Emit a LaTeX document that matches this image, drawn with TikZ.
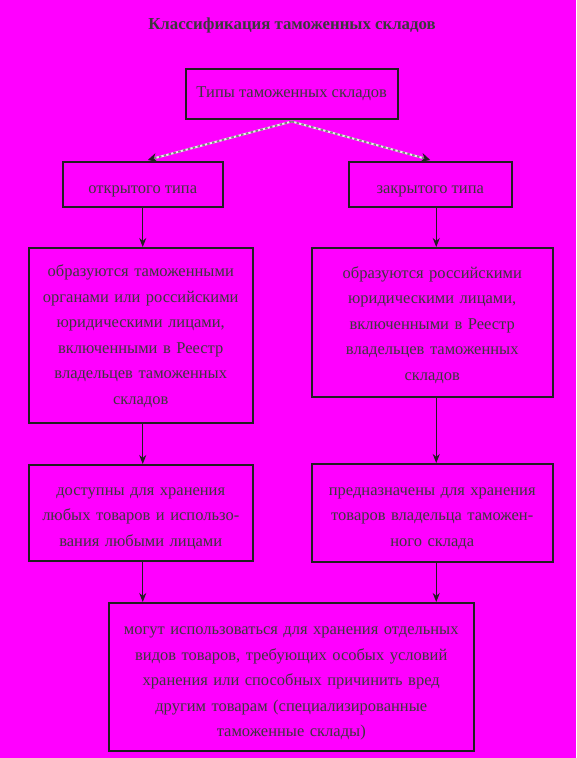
\documentclass[tikz,border=0pt]{standalone}
\usepackage{fontspec}
\setmainfont{Liberation Serif}
\usepackage{xcolor}
\usetikzlibrary{arrows.meta, positioning, calc}
\definecolor{pagemagenta}{RGB}{255, 0, 255}
\definecolor{boxline}{RGB}{34, 30, 34}
\definecolor{textgray}{RGB}{60, 56, 60}

\begin{document}
\begin{tikzpicture}[
    x=1pt, y=1pt,
    box/.style={rectangle, draw=boxline, line width=1.5pt, anchor=north west, inner sep=2pt, align=center, text=textgray, font=\fontsize{16.5}{25.5}\selectfont},
    lower/.style={text height=#1},
    arrow/.style={-{Stealth[length=9pt, width=7pt]}, boxline, line width=0.9pt},
    splitline/.style={white!85!gray, line width=2pt, shorten >=6pt},
    splitarrow/.style={-{Stealth[length=9pt, width=9pt, color=boxline]}, gray, line width=2pt, dash pattern=on 2.5pt off 2.5pt}
]
% Background and page size
\fill[pagemagenta] (0,0) rectangle (576,-758);
\useasboundingbox (0,0) rectangle (576,-758);

% Title
\node[font=\bfseries\fontsize{16.8}{20}\selectfont, text=textgray] (title) at (292,-25) {Классификация таможенных складов};

% Boxes
\node[box, minimum width=212pt, minimum height=50pt] (types) at (185,-68) {Типы таможенных складов};
\node[box, minimum width=160pt, minimum height=45pt, lower=23pt] (open) at (62,-161) {открытого типа};
\node[box, minimum width=163pt, minimum height=45pt, lower=23pt] (closed) at (348,-161) {закрытого типа};
\node[box, minimum width=224pt, minimum height=175pt, text width=215pt, lower=13.5pt] (openform) at (28,-247)
    {образуются таможенными\\органами или российскими\\юридическими лицами,\\включенными в Реестр\\владельцев таможенных\\складов};
\node[box, minimum width=241pt, minimum height=149pt, text width=230pt, lower=17.5pt] (closedform) at (311,-247)
    {образуются российскими\\юридическими лицами,\\включенными в Реестр\\владельцев таможенных\\складов};
\node[box, minimum width=224pt, minimum height=96pt, text width=215pt, lower=19.5pt] (openuse) at (28,-464)
    {доступны для хранения\\любых товаров и использо-\\вания любыми лицами};
\node[box, minimum width=241pt, minimum height=98pt, text width=230pt, lower=19.5pt] (closeduse) at (311,-463)
    {предназначены для хранения\\товаров владельца таможен-\\ного склада};
\node[box, minimum width=365pt, minimum height=148pt, text width=355pt, lower=21.5pt] (special) at (108,-602)
    {могут использоваться для хранения отдельных\\видов товаров, требующих особых условий\\хранения или способных причинить вред\\другим товарам (специализированные\\таможенные склады)};

% Split arrows
\draw[splitline] ([yshift=-2pt]types.south) -- ([xshift=5pt,yshift=1pt]open.north);
\draw[splitline] ([yshift=-2pt]types.south) -- ([yshift=1pt]closed.north);
\draw[splitarrow] ([yshift=-2pt]types.south) -- ([xshift=5pt,yshift=1pt]open.north);
\draw[splitarrow] ([yshift=-2pt]types.south) -- ([yshift=1pt]closed.north);

% Down arrows
\draw[arrow] (open.south) -- (open.south |- openform.north);
\draw[arrow] ([xshift=6pt]closed.south) -- ([xshift=6pt]closed.south |- closedform.north);
\draw[arrow] (open.south |- openform.south) -- (open.south |- openuse.north);
\draw[arrow] ([xshift=6pt]closed.south |- closedform.south) -- ([xshift=6pt]closed.south |- closeduse.north);
\draw[arrow] (open.south |- openuse.south) -- (open.south |- special.north);
\draw[arrow] ([xshift=6pt]closed.south |- closeduse.south) -- ([xshift=6pt]closed.south |- special.north);
\end{tikzpicture}
\end{document}
